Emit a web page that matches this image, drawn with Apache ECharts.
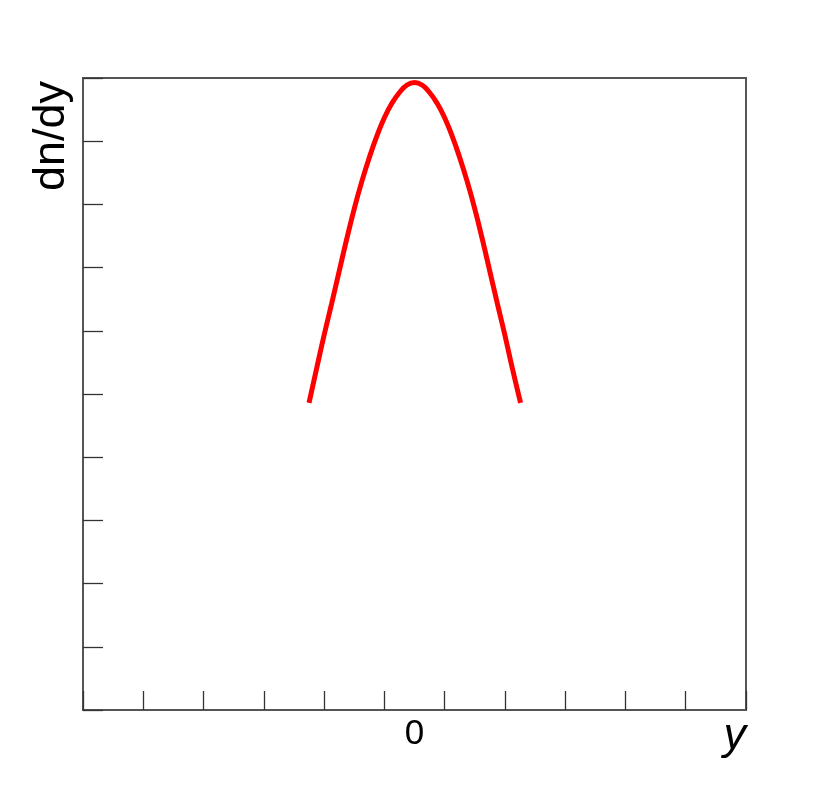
<!DOCTYPE html>
<html>
<head>
<meta charset="utf-8">
<script src="https://cdn.jsdelivr.net/npm/echarts@6/dist/echarts.min.js"></script>
<style>
  html, body { margin: 0; padding: 0; background: #fff; }
  #main { width: 830px; height: 789px; }
</style>
</head>
<body>
<div id="main"></div>
<script>
// rapidity y and dn/dy
var rapidity = [-1.75, -1.625, -1.5, -1.375, -1.25, -1.125, -1.0, -0.875, -0.75, -0.625, -0.5, -0.375, -0.25, -0.125,
  0, 0.125, 0.25, 0.375, 0.5, 0.625, 0.75, 0.875, 1.0, 1.125, 1.25, 1.375, 1.5, 1.625, 1.76];
var dndy = [4.86, 5.40, 5.93, 6.43, 6.94, 7.45, 7.93, 8.36, 8.74, 9.08, 9.37, 9.60, 9.77, 9.89,
  9.93, 9.89, 9.77, 9.60, 9.37, 9.08, 8.74, 8.36, 7.93, 7.45, 6.94, 6.43, 5.93, 5.40, 4.86];
var xTickLabels = ['0'];

var points = rapidity.map(function (x, i) { return [x, dndy[i]]; });

var myChart = echarts.init(document.getElementById('main'));
myChart.setOption({
  animation: false,
  grid: {
    left: 83, right: 84, top: 78, bottom: 79,
    show: true, borderColor: '#555', borderWidth: 2, backgroundColor: 'transparent'
  },
  xAxis: [
    {
      type: 'value', min: -5.5, max: 5.5, interval: 1,
      axisLine: { show: false, onZero: false },
      axisTick: { show: true, inside: true, length: 19, lineStyle: { color: '#333', width: 1.3 } },
      axisLabel: { show: false },
      splitLine: { show: false }
    },
    {
      type: 'value', position: 'bottom', min: -5.5, max: 5.5, interval: 5.5,
      axisLine: { show: false, onZero: false },
      axisTick: { show: false },
      splitLine: { show: false },
      axisLabel: {
        margin: 7, fontSize: 35, color: '#000', fontFamily: 'Liberation Sans',
        formatter: function (v) { return xTickLabels.indexOf(String(v)) >= 0 ? String(v) : ''; }
      }
    }
  ],
  yAxis: {
    type: 'value', min: 0, max: 10, interval: 1,
    axisLine: { show: false, onZero: false },
    axisTick: { show: true, inside: true, length: 20, lineStyle: { color: '#333', width: 1.3 } },
    axisLabel: { show: false },
    splitLine: { show: false }
  },
  series: [{
    type: 'line',
    data: points,
    smooth: 0.5,
    showSymbol: false,
    lineStyle: { color: '#ff0000', width: 5 }
  }],
  graphic: [
    {
      type: 'text', x: 52, y: 136, rotation: Math.PI / 2,
      style: { text: 'dn/dy', fontSize: 45, fontFamily: 'Liberation Sans', fill: '#000',
        align: 'center', verticalAlign: 'middle' }
    },
    {
      type: 'text', x: 746, y: 736,
      style: { text: 'y', fontSize: 45, fontStyle: 'italic', fontFamily: 'Liberation Sans', fill: '#000',
        align: 'right', verticalAlign: 'middle' }
    }
  ]
});
</script>
</body>
</html>
